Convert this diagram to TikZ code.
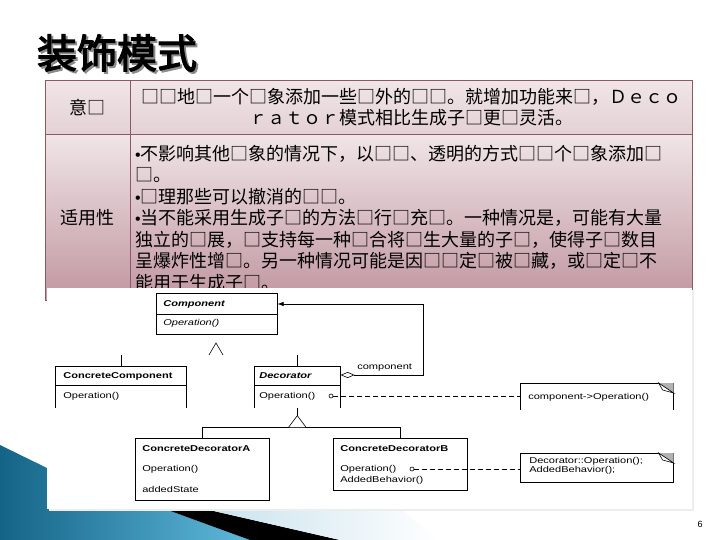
\documentclass[tikz,border=0pt]{standalone}
\usepackage{fontspec}
\setmainfont{Liberation Sans}
\newfontfamily\cjk{Noto Sans CJK SC}
\newfontfamily\cjktitle[FakeBold=3]{Noto Sans CJK SC}
\newfontfamily\umlfont[FakeStretch=1.3]{Liberation Sans}
\usetikzlibrary{positioning,arrows.meta,calc}

\definecolor{tableline}{RGB}{140,88,100}
\definecolor{rowlight}{RGB}{240,229,231}
\definecolor{rowmid}{RGB}{228,209,213}
\definecolor{rowdark}{RGB}{192,150,159}
\definecolor{swooshdark}{RGB}{20,100,135}
\definecolor{swooshlight}{RGB}{95,185,220}
\definecolor{swooshpale}{RGB}{200,226,237}

\newcommand{\bul}{{\rmfamily\fontsize{16}{21.5}\selectfont •}}

\begin{document}
\begin{tikzpicture}[x=1pt, y=-1pt,
    cell/.style={rectangle, draw=tableline, line width=0.8pt, inner sep=0pt, anchor=north west},
    cjktext/.style={font=\cjk\fontsize{18}{21.5}\selectfont, inner sep=0pt},
    umlbox/.style={rectangle, inner sep=0pt, anchor=north west},
    umltext/.style={font=\umlfont\fontsize{8.5}{9}\selectfont, inner sep=0pt, anchor=west},
    umlbold/.style={umltext, font=\umlfont\fontsize{8.5}{9}\selectfont\bfseries},
    umlabstract/.style={umltext, font=\umlfont\fontsize{8.5}{9}\selectfont\bfseries\itshape},
    umlitalic/.style={umltext, font=\umlfont\fontsize{8.5}{9}\selectfont\itshape},
    linkdot/.style={circle, draw, fill=white, inner sep=0pt, minimum size=4pt},
    notelink/.style={dash pattern=on 5pt off 3pt},
    aggr/.style={{Diamond[open,length=14pt,width=6pt]}-{Latex[length=6pt,width=4.5pt]}}
]
\useasboundingbox (0,0) rectangle (720,540);
\fill[white] (0,0) rectangle (720,540);

% Swoosh
\shade[left color=swooshdark, right color=swooshlight] (0,445) -- (47,468) -- (47,509) -- (165,509) -- (250,540) -- (0,540) -- cycle;
\fill[black] (165,509) -- (205,509) -- (340,540) -- (250,540) -- cycle;
\shade[left color=swooshpale, right color=white] (205,509) -- (400,509) -- (440,540) -- (340,540) -- cycle;

% Title (with its shadow)
\node[font=\cjktitle\fontsize{40}{40}\selectfont] (title) at (117,54)
  {\makebox[0pt][l]{\hspace{2pt}\raisebox{-2pt}{\color{black!45}装饰模式}}装饰模式};

% Table
\node[cell, cjktext, minimum width=85, minimum height=54, top color=rowlight, bottom color=rowmid] (intent-head) at (45,80) {意□};
\node[cell, cjktext, minimum width=562, minimum height=54, top color=rowlight, bottom color=rowmid, align=center] (intent-body) at (130,80)
  {□□地□一个□象添加一些□外的□□。就增加功能来□，Ｄｅｃｏ\\ｒａｔｏｒ模式相比生成子□更□灵活。};
\node[cell, cjktext, minimum width=85, minimum height=166, top color=rowlight, bottom color=rowdark] (apply-head) at (45,134) {适用性};
\node[cell, minimum width=562, minimum height=166, top color=rowlight, bottom color=rowdark] (apply-body) at (130,134) {};
\node[cjktext, anchor=north west, align=left] (apply-text) at (135,145)
  {\bul 不影响其他□象的情况下，以□□、透明的方式□□个□象添加□\\
   □。\\
   \bul □理那些可以撤消的□□。\\
   \bul 当不能采用生成子□的方法□行□充□。一种情况是，可能有大量\\
   独立的□展，□支持每一种□合将□生大量的子□，使得子□数目\\
   呈爆炸性增□。另一种情况可能是因□□定□被□藏，或□定□不\\
   能用于生成子□。};

% Picture panel
\fill[black!7] (49,290) rectangle (694,511);
\fill[white] (47,288) rectangle (692,509);

\begin{scope}[line width=0.6pt]
% Component
\node[umlbox, draw, minimum width=121, minimum height=41] (comp) at (156,293) {};
\draw ([yshift=-21pt]comp.north west) -- ([yshift=-21pt]comp.north east);
\node[umlabstract] (comp-name) at (163,304) {Component};
\node[umlitalic, below=19pt of comp-name.west, anchor=west] (comp-op) {Operation()};

% ConcreteComponent
\node[umlbox, minimum width=131, minimum height=41] (cc) at (55,366) {};
\draw (cc.south west) |- (cc.north east) -- (cc.south east);
\draw ([yshift=-19pt]cc.north west) -- ([yshift=-19pt]cc.north east);
\node[umlbold] (cc-name) at (63,376) {ConcreteComponent};
\node[umltext, below=20pt of cc-name.west, anchor=west] (cc-op) {Operation()};

% Decorator
\node[umlbox, minimum width=86, minimum height=41] (deco) at (254,366) {};
\draw (deco.south west) |- (deco.north east) -- (deco.south east);
\draw ([yshift=-19pt]deco.north west) -- ([yshift=-19pt]deco.north east);
\node[umlabstract] (deco-name) at (259,376) {Decorator};
\node[umltext, below=20pt of deco-name.west, anchor=west] (deco-op) {Operation()};
\node[linkdot] (deco-dot) at (331,396) {};

% ConcreteDecoratorA
\node[umlbox, draw, minimum width=134, minimum height=62] (cda) at (135,438) {};
\node[umlbold] (cda-name) at (142,449) {ConcreteDecoratorA};
\node[umltext, below=20pt of cda-name.west, anchor=west] (cda-op) {Operation()};
\node[umltext, below=20pt of cda-op.west, anchor=west] (cda-state) {addedState};

% ConcreteDecoratorB
\node[umlbox, draw, minimum width=134, minimum height=52] (cdb) at (333,438) {};
\node[umlbold] (cdb-name) at (340,449) {ConcreteDecoratorB};
\node[umltext, below=20pt of cdb-name.west, anchor=west] (cdb-op) {Operation()};
\node[umltext, below=11pt of cdb-op.west, anchor=west] (cdb-added) {AddedBehavior()};
\node[linkdot] (cdb-dot) at (412,469) {};

% Notes
\node[umlbox, minimum width=153, minimum height=26] (note1) at (520,383) {};
\draw (note1.south west) |- (note1.north east) -- (note1.south east);
\fill[gray!60] ([xshift=-15pt]note1.north east) -- (note1.north east) -- ([yshift=-10pt]note1.north east) -- cycle;
\filldraw[fill=white] ([xshift=-15pt]note1.north east) -- ([xshift=-11pt,yshift=-7pt]note1.north east) -- ([yshift=-10pt]note1.north east) -- cycle;
\node[umltext] (note1-text) at (528,397) {component->Operation()};

\node[umlbox, draw, minimum width=153, minimum height=29] (note2) at (520,453) {};
\fill[gray!60] ([xshift=-15pt]note2.north east) -- (note2.north east) -- ([yshift=-10pt]note2.north east) -- cycle;
\filldraw[fill=white] ([xshift=-15pt]note2.north east) -- ([xshift=-11pt,yshift=-7pt]note2.north east) -- ([yshift=-10pt]note2.north east) -- cycle;
\node[umltext, anchor=north west, align=left] (note2-text) at (529,457) {Decorator::Operation();\\AddedBehavior();};

% Inheritance
\coordinate (comp-apex) at (216,343);
\draw ($(comp-apex)+(-7,12)$) -- (comp-apex) -- ++(7,12);
\draw (cc.north) -- ++(0,-11);
\draw (deco.north) -- ++(0,-11);

\draw (deco.south) -- ++(0,8) coordinate (deco-apex);
\coordinate (deco-fork) at ([yshift=-12pt]deco-apex);
\draw (cda.north) |- (deco-fork) -| (cdb.north);
\draw[fill=white] (deco-apex) -- ++(-9,12) -- ++(18,0) -- cycle;

% Aggregation
\coordinate (agg-start) at ([yshift=-9pt]deco.north east);
\coordinate (agg-turn) at (423,304);
\draw[aggr] (agg-start) -| (agg-turn) -- (comp.east |- agg-turn);
\node[umltext] (agg-label) at (357,368) {component};

% Note links
\draw[notelink] (deco-dot) -- (note1.west |- deco-dot);
\draw[notelink] (cdb-dot) -- (note2.west |- cdb-dot);
\end{scope}

% Page number
\node[font=\fontsize{9}{9}\selectfont] (page-num) at (700,524) {6};
\end{tikzpicture}
\end{document}
